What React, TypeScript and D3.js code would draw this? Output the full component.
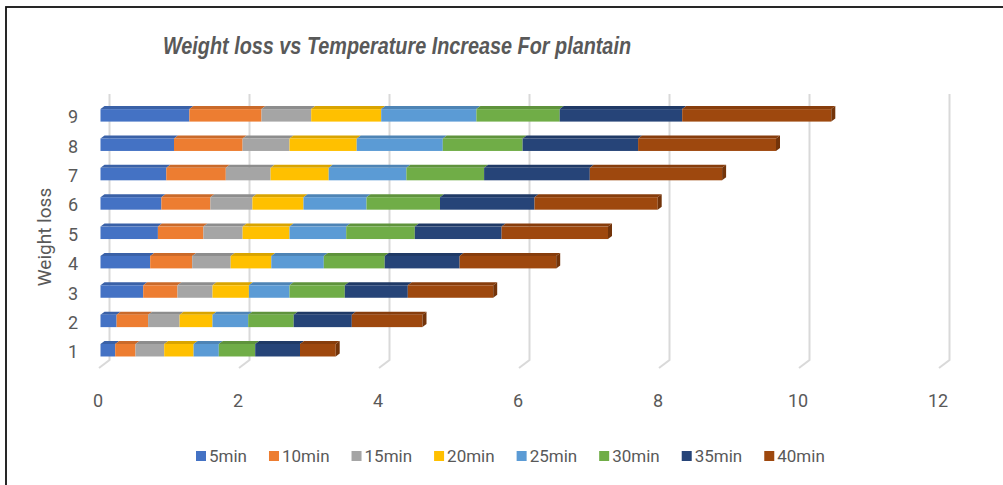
import { useRef, useEffect } from "react";
import * as d3 from "d3";

const categories = ["1", "2", "3", "4", "5", "6", "7", "8", "9"];
const seriesNames = ["5min", "10min", "15min", "20min", "25min", "30min", "35min", "40min"];
const colors = ["#4472C4", "#ED7D31", "#A5A5A5", "#FFC000", "#5B9BD5", "#70AD47", "#264478", "#9E480E"];
const xTicks = [0, 2, 4, 6, 8, 10, 12];

const s5 = [0.21, 0.23, 0.61, 0.71, 0.82, 0.87, 0.94, 1.05, 1.27];
const s10 = [0.29, 0.45, 0.49, 0.6, 0.65, 0.7, 0.85, 0.98, 1.03];
const s15 = [0.41, 0.45, 0.5, 0.55, 0.56, 0.6, 0.64, 0.67, 0.71];
const s20 = [0.42, 0.47, 0.52, 0.58, 0.67, 0.73, 0.83, 0.96, 1.0];
const s25 = [0.36, 0.51, 0.58, 0.75, 0.81, 0.9, 1.11, 1.23, 1.36];
const s30 = [0.52, 0.65, 0.79, 0.87, 0.98, 1.05, 1.11, 1.14, 1.19];
const s35 = [0.64, 0.83, 0.9, 1.07, 1.24, 1.35, 1.51, 1.65, 1.75];
const s40 = [0.51, 1.01, 1.22, 1.38, 1.52, 1.76, 1.89, 1.97, 2.13];

const seriesValues = [s5, s10, s15, s20, s25, s30, s35, s40];

export default function App() {
  const ref = useRef<SVGSVGElement>(null);

  useEffect(() => {
    if (!ref.current) return;
    const svg = d3.select(ref.current); svg.selectAll("*").remove();
    const W = 1003, H = 485;
    const font = "Roboto, 'Noto Sans', sans-serif";
    const grey = "#595959";

    svg.append("rect").attr("width", W).attr("height", H).attr("fill", "#fff");
    svg.append("rect").attr("x", 6).attr("y", 7).attr("width", W + 10).attr("height", H + 10)
      .attr("fill", "none").attr("stroke", "#111").attr("stroke-width", 1.8);

    // 3D-ish offsets (back wall vs front floor)
    const dxWall = 9, dyWall = 8, dxBar = 4, dyBar = 3;
    const x = d3.scaleLinear().domain([0, 12]).range([100.5, 940.5]);
    const y = d3.scaleBand().domain(categories).range([365, 100.6]).paddingInner(0.575).paddingOuter(0.29);

    // gridlines
    const gTop = 94, gBottom = 360;
    xTicks.forEach(v => {
      const bx = x(v) + dxWall;
      svg.append("path")
        .attr("d", `M${bx},${gTop}L${bx},${gBottom}L${x(v) - 1.5},${gBottom + dyWall}`)
        .attr("fill", "none").attr("stroke", "#d9d9d9").attr("stroke-width", 2);
    });

    // bars
    const rows = categories.map((c, i) => {
      const r: any = { cat: c };
      seriesNames.forEach((s, j) => { r[s] = seriesValues[j][i]; });
      return r;
    });
    const stacked = d3.stack<any>().keys(seriesNames)(rows);
    const bh = y.bandwidth();
    stacked.forEach((layer, li) => {
      const col = colors[li];
      const top = d3.color(col)!.darker(0.45).toString();
      const side = d3.color(col)!.darker(0.9).toString();
      layer.forEach(d => {
        const cat = (d.data as any).cat;
        const x0 = x(d[0]), x1 = x(d[1]);
        const yt = y(cat)!;
        svg.append("path")
          .attr("d", `M${x0},${yt}L${x0 + dxBar},${yt - dyBar}L${x1 + dxBar},${yt - dyBar}L${x1},${yt}Z`)
          .attr("fill", top);
        svg.append("rect").attr("x", x0).attr("y", yt).attr("width", Math.max(0, x1 - x0)).attr("height", bh)
          .attr("fill", col);
        if (li === stacked.length - 1) {
          svg.append("path")
            .attr("d", `M${x1},${yt}L${x1 + dxBar},${yt - dyBar}L${x1 + dxBar},${yt + bh - dyBar}L${x1},${yt + bh}Z`)
            .attr("fill", side);
        }
      });
    });

    // x tick labels
    svg.selectAll(".xt").data(xTicks).join("text")
      .attr("x", d => x(d) - 2.5).attr("y", 407).attr("text-anchor", "middle")
      .attr("fill", grey).attr("font-size", "18px").attr("font-family", font)
      .text(d => d);

    // y category labels
    svg.selectAll(".yt").data(categories).join("text")
      .attr("x", 73).attr("y", d => y(d)! + bh / 2 + 8).attr("text-anchor", "middle")
      .attr("fill", grey).attr("font-size", "18px").attr("font-family", font)
      .text(d => d);

    // axis title
    svg.append("text").attr("transform", "translate(51,237) rotate(-90)").attr("text-anchor", "middle")
      .attr("fill", grey).attr("font-size", "19px").attr("font-family", font).text("Weight loss");

    // chart title
    svg.append("text").attr("x", 163).attr("y", 54)
      .attr("fill", grey).attr("font-size", "23px").attr("font-weight", "bold").attr("font-style", "italic")
      .attr("font-family", "'Liberation Sans', Arial, sans-serif")
      .attr("textLength", 468).attr("lengthAdjust", "spacingAndGlyphs")
      .text("Weight loss vs Temperature Increase For plantain");

    // legend
    let lx = 196;
    seriesNames.forEach((s, i) => {
      svg.append("rect").attr("x", lx).attr("y", 451).attr("width", 10).attr("height", 10).attr("fill", colors[i]);
      const t = svg.append("text").attr("x", lx + 13).attr("y", 462)
        .attr("fill", grey).attr("font-size", "17px").attr("font-family", font).text(s);
      const tw = (t.node() as SVGTextElement).getComputedTextLength();
      lx += 13 + tw + 22;
    });
  }, []);

  return (
    <svg ref={ref} width={1003} height={485} style={{ position: "absolute", left: 0, top: 0 }} />
  );
}
